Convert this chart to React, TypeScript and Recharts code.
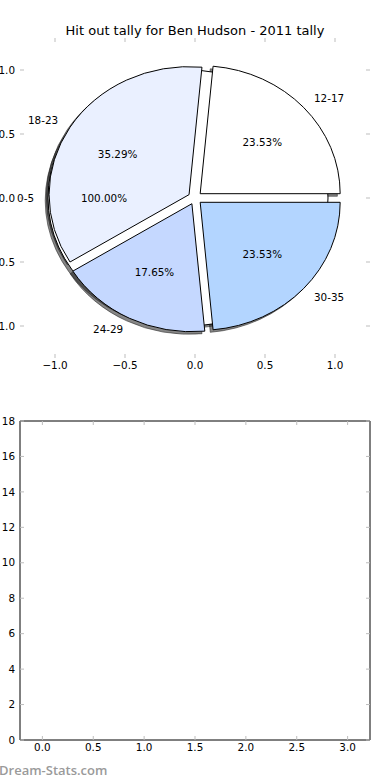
import React from 'react';
import { PieChart, Pie, Cell, ScatterChart, Scatter, XAxis, YAxis } from 'recharts';

// hit outs by age group (counts)
const ageGroups = ['12-17', '18-23', '24-29', '30-35'];
const hitOuts = [4, 6, 3, 4];
const wedgeColors = ['#ffffff', '#eaf0ff', '#c5d8ff', '#b3d5ff'];

// the extra single-wedge pie drawn underneath
const extraGroups = ['0-5'];
const extraValues = [1];

const pieTicks = [-1, -0.5, 0, 0.5, 1];
const barXTicks = [0, 0.5, 1, 1.5, 2, 2.5, 3];
const barYTicks = [0, 2, 4, 6, 8, 10, 12, 14, 16, 18];

const FONT = '"DejaVu Sans", sans-serif';
const FS = 10.4;
const TICK_GRAY = '#bdbdbd';

const pieData = ageGroups.map((name, i) => ({ name, value: hitOuts[i] }));
const extraData = extraGroups.map((name, i) => ({ name, value: extraValues[i] }));

// pie axes: x and y units are not the same size on screen
const RX = 140;
const RY = 128;
const EXPLODE = 0.05;
const SHADOW = 0.02;
const rad = Math.PI / 180;

const fmtPie = (v: number) => (v < 0 ? '\u2212' : '') + Math.abs(v).toFixed(1);

const wedgePath = (cx: number, cy: number, s: number, e: number) => {
  const x1 = cx + RX * Math.cos(s * rad);
  const y1 = cy - RY * Math.sin(s * rad);
  const x2 = cx + RX * Math.cos(e * rad);
  const y2 = cy - RY * Math.sin(e * rad);
  const large = Math.abs(e - s) > 180 ? 1 : 0;
  return `M${cx},${cy} L${x1},${y1} A${RX},${RY} 0 ${large} 0 ${x2},${y2} Z`;
};

const makeWedge = (mode: 'shadow' | 'face' | 'none') => (props: any) => {
  const { cx, cy, startAngle, endAngle, fill } = props;
  if (mode === 'none') return <g />;
  const mid = (startAngle + endAngle) / 2;
  let ox = cx + EXPLODE * RX * Math.cos(mid * rad);
  let oy = cy - EXPLODE * RY * Math.sin(mid * rad);
  if (mode === 'shadow') {
    ox -= SHADOW * RX;
    oy += SHADOW * RY;
  }
  const shadowFill = 'rgba(35,35,35,0.55)';
  const full = Math.abs(endAngle - startAngle) >= 359.9;
  if (full) {
    return (
      <ellipse cx={ox} cy={oy} rx={RX} ry={RY}
        fill={mode === 'shadow' ? shadowFill : fill}
        stroke={mode === 'shadow' ? shadowFill : '#000'} strokeWidth={1} />
    );
  }
  return (
    <path d={wedgePath(ox, oy, startAngle, endAngle)}
      fill={mode === 'shadow' ? shadowFill : fill}
      stroke={mode === 'shadow' ? shadowFill : '#000'} strokeWidth={1} strokeLinejoin="miter" />
  );
};

const renderLabels = (props: any) => {
  const { cx, cy, midAngle, percent, name } = props;
  const c = Math.cos(midAngle * rad);
  const s = Math.sin(midAngle * rad);
  const lx = cx + (EXPLODE + 1.1) * RX * c;
  const ly = cy - (EXPLODE + 1.1) * RY * s;
  const px = cx + (EXPLODE + 0.6) * RX * c;
  const py = cy - (EXPLODE + 0.6) * RY * s;
  return (
    <g fontFamily={FONT} fontSize={FS} fill="#000">
      <text x={lx} y={ly} dy="0.35em" textAnchor={lx < cx ? 'end' : 'start'}>{name}</text>
      <text x={px} y={py} dy="0.35em" textAnchor="middle">{(percent * 100).toFixed(2) + '%'}</text>
    </g>
  );
};

// tick with a short inward mark; tickSize is 0 so x/y sit tickMargin away from the edge
const makeTick = (side: 'left' | 'right' | 'top' | 'bottom', margin: number, fmt: ((v: number) => string) | null) =>
  (props: any) => {
    const { x, y, payload } = props;
    const v = payload.value;
    if (side === 'bottom') {
      const e = y - margin;
      return (
        <g>
          <line x1={x} y1={e} x2={x} y2={e - 4} stroke={TICK_GRAY} strokeWidth={1} />
          {fmt && <text x={x} y={y} dy="0.75em" textAnchor="middle" fontFamily={FONT} fontSize={FS} fill="#000">{fmt(v)}</text>}
        </g>
      );
    }
    if (side === 'top') {
      const e = y + margin;
      return <line x1={x} y1={e} x2={x} y2={e + 4} stroke={TICK_GRAY} strokeWidth={1} />;
    }
    if (side === 'left') {
      const e = x + margin;
      return (
        <g>
          <line x1={e} y1={y} x2={e + 4} y2={y} stroke={TICK_GRAY} strokeWidth={1} />
          {fmt && <text x={x} y={y} dy="0.35em" textAnchor="end" fontFamily={FONT} fontSize={FS} fill="#000">{fmt(v)}</text>}
        </g>
      );
    }
    const e = x - margin;
    return <line x1={e} y1={y} x2={e - 4} y2={y} stroke={TICK_GRAY} strokeWidth={1} />;
  };

const PieAxes = () => (
  <ScatterChart width={390} height={380} margin={{ top: 37, right: 19, bottom: 21, left: 19 }}>
    <XAxis xAxisId="b" dataKey="x" type="number" domain={[-1.25, 1.25]} ticks={pieTicks} allowDataOverflow
      orientation="bottom" height={1} tickSize={0} tickMargin={3} axisLine={false} tickLine={false}
      interval={0} tick={makeTick('bottom', 3, fmtPie)} />
    <XAxis xAxisId="t" dataKey="x" type="number" domain={[-1.25, 1.25]} ticks={pieTicks} allowDataOverflow
      orientation="top" height={1} tickSize={0} tickMargin={3} axisLine={false} tickLine={false}
      interval={0} tick={makeTick('top', 3, null)} />
    <YAxis yAxisId="l" dataKey="y" type="number" domain={[-1.25, 1.25]} ticks={pieTicks} allowDataOverflow
      orientation="left" width={1} tickSize={0} tickMargin={5} axisLine={false} tickLine={false}
      interval={0} tick={makeTick('left', 5, fmtPie)} />
    <YAxis yAxisId="r" dataKey="y" type="number" domain={[-1.25, 1.25]} ticks={pieTicks} allowDataOverflow
      orientation="right" width={1} tickSize={0} tickMargin={3} axisLine={false} tickLine={false}
      interval={0} tick={makeTick('right', 3, null)} />
    <Scatter xAxisId="b" yAxisId="l" data={[]} isAnimationActive={false} />
    <text x={195} y={30} dy="0.35em" textAnchor="middle" fontFamily={FONT} fontSize={13} fill="#000">
      Hit out tally for Ben Hudson - 2011 tally
    </text>
  </ScatterChart>
);

const HitOutPie = () => (
  <PieChart width={390} height={380} margin={{ top: 0, right: 0, bottom: 0, left: 0 }}>
    {/* shadows */}
    <Pie data={extraData} dataKey="value" nameKey="name" cx={195} cy={198} outerRadius={RX}
      startAngle={0} endAngle={360} isAnimationActive={false} label={false} labelLine={false}
      shape={makeWedge('shadow')} />
    <Pie data={pieData} dataKey="value" nameKey="name" cx={195} cy={198} outerRadius={RX}
      startAngle={0} endAngle={360} isAnimationActive={false} label={false} labelLine={false}
      shape={makeWedge('shadow')} />
    {/* wedges */}
    <Pie data={extraData} dataKey="value" nameKey="name" cx={195} cy={198} outerRadius={RX}
      startAngle={0} endAngle={360} isAnimationActive={false} label={false} labelLine={false}
      fill="#ffffff" shape={makeWedge('face')} />
    <Pie data={pieData} dataKey="value" nameKey="name" cx={195} cy={198} outerRadius={RX}
      startAngle={0} endAngle={360} isAnimationActive={false} labelLine={false}
      label={renderLabels} shape={makeWedge('face')}>
      {pieData.map((d, i) => (
        <Cell key={d.name} fill={wedgeColors[i]} />
      ))}
    </Pie>
    {/* labels of the single-wedge pie, on top */}
    <Pie data={extraData} dataKey="value" nameKey="name" cx={195} cy={198} outerRadius={RX}
      startAngle={0} endAngle={360} isAnimationActive={false} labelLine={false}
      label={renderLabels} shape={makeWedge('none')} />
  </PieChart>
);

const EmptyBars = () => (
  <ScatterChart width={390} height={360} margin={{ top: 20, right: 19, bottom: 19, left: 19 }}>
    <XAxis xAxisId="b" dataKey="x" type="number" domain={[-0.22, 3.22]} ticks={barXTicks} allowDataOverflow
      orientation="bottom" height={1} tickSize={0} tickMargin={3} tickLine={false}
      axisLine={{ stroke: '#000' }} interval={0} tick={makeTick('bottom', 3, (v) => v.toFixed(1))} />
    <XAxis xAxisId="t" dataKey="x" type="number" domain={[-0.22, 3.22]} ticks={barXTicks} allowDataOverflow
      orientation="top" height={1} tickSize={0} tickMargin={3} tickLine={false}
      axisLine={{ stroke: '#000' }} interval={0} tick={makeTick('top', 3, null)} />
    <YAxis yAxisId="l" dataKey="y" type="number" domain={[0, 18]} ticks={barYTicks} allowDataOverflow
      orientation="left" width={1} tickSize={0} tickMargin={5} tickLine={false}
      axisLine={{ stroke: '#000' }} interval={0} tick={makeTick('left', 5, (v) => String(v))} />
    <YAxis yAxisId="r" dataKey="y" type="number" domain={[0, 18]} ticks={barYTicks} allowDataOverflow
      orientation="right" width={1} tickSize={0} tickMargin={3} tickLine={false}
      axisLine={{ stroke: '#000' }} interval={0} tick={makeTick('right', 3, null)} />
    <Scatter xAxisId="b" yAxisId="l" data={[]} isAnimationActive={false} />
  </ScatterChart>
);

export default function App() {
  return (
    <div style={{ position: 'absolute', left: 0, top: 0, width: 390, height: 780, background: '#fff', overflow: 'hidden' }}>
      <div style={{ position: 'absolute', left: 0, top: 0 }}>
        <PieAxes />
      </div>
      <div style={{ position: 'absolute', left: 0, top: 0 }}>
        <HitOutPie />
      </div>
      <div style={{ position: 'absolute', left: 0, top: 400 }}>
        <EmptyBars />
      </div>
      <div style={{ position: 'absolute', left: -1, top: 761, fontFamily: '"Open Sans", sans-serif', fontSize: 13, fontWeight: 600, color: '#9a9a9a', lineHeight: '18px' }}>
        Dream-Stats.com
      </div>
    </div>
  );
}
